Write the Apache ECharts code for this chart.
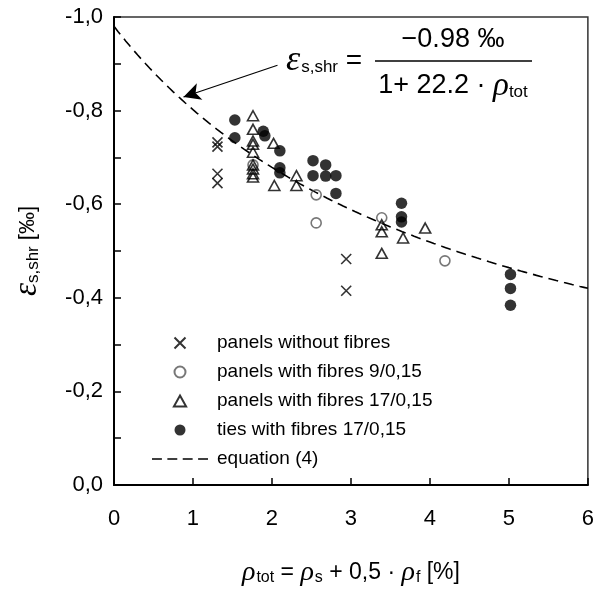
<!DOCTYPE html>
<html><head><meta charset="utf-8">
<script src="https://cdn.jsdelivr.net/npm/echarts@6/dist/echarts.min.js"></script>
<style>html,body{margin:0;padding:0;background:#fff}#c{width:597px;height:592px}</style>
</head><body><div id="c"></div>
<script>
// data: [rho_tot in %, shrinkage strain in permille]
const panelsNoFibres = [[1.31,-0.732],[1.31,-0.723],[1.31,-0.665],[1.31,-0.645],[2.94,-0.483],[2.94,-0.415]];
const panelsFibres9 = [[1.76,-0.684],[2.56,-0.620],[2.56,-0.560],[3.39,-0.571],[4.19,-0.479]];
const panelsFibres17 = [[1.76,-0.789],[1.76,-0.760],[1.76,-0.735],[1.76,-0.728],[1.76,-0.711],[1.76,-0.684],[1.76,-0.675],[1.76,-0.665],[1.76,-0.658],
  [2.02,-0.730],[2.03,-0.640],[2.31,-0.661],[2.31,-0.640],[3.39,-0.556],[3.39,-0.541],[3.39,-0.495],[3.66,-0.528],[3.94,-0.549]];
const tiesFibres17 = [[1.53,-0.780],[1.53,-0.742],[1.89,-0.756],[1.91,-0.746],[2.10,-0.714],[2.10,-0.678],[2.10,-0.667],
  [2.52,-0.693],[2.52,-0.661],[2.68,-0.684],[2.68,-0.660],[2.81,-0.661],[2.81,-0.623],
  [3.64,-0.602],[3.64,-0.573],[3.64,-0.562],[5.02,-0.450],[5.02,-0.420],[5.02,-0.384]];
const seriesNames = ['panels without fibres','panels with fibres 9/0,15','panels with fibres 17/0,15','ties with fibres 17/0,15','equation (4)'];
const eqA = -0.98, eqB = 22.2;   // equation (4): eps = eqA / (1 + eqB * rho_tot/100)
const eqX = []; for (let i = 0; i <= 120; i++) eqX.push(i * 0.05);
const eqLine = eqX.map(x => [x, eqA / (1 + eqB * x / 100)]);
const arrowFrom = [2.07, -0.897], arrowTo = [0.88, -0.829];

const sans = 'Liberation Sans, Arial, sans-serif';
const serif = 'Liberation Serif, Times New Roman, serif';
const crossPath = 'path://M0,0L10,10M10,0L0,10';
const triPath = 'path://M5,0L10,9L0,9Z';
const dashPath = 'path://M0,0h10v1.7h-10zM15.5,0h10v1.7h-10zM31,0h10v1.7h-10zM46.5,0h10v1.7h-10z';
const chart = echarts.init(document.getElementById('c'), null, {renderer:'canvas'});
const nameRichX = {
  g:{fontFamily:serif,fontStyle:'italic',fontSize:28,color:'#000'},
  s:{fontFamily:sans,fontSize:16,color:'#000',padding:[10,0,0,1]},
  t:{fontFamily:sans,fontSize:23,color:'#000'}
};
const nameRichY = {
  g:{fontFamily:serif,fontStyle:'italic',fontSize:33,color:'#000'},
  s:{fontFamily:sans,fontSize:17,color:'#000',padding:[11,0,0,0]},
  t:{fontFamily:sans,fontSize:22,color:'#000'}
};
chart.setOption({
  animation:false,
  backgroundColor:'#fff',
  grid:{left:114,right:8,top:17,bottom:104,show:true,borderColor:'#333',borderWidth:1.5,backgroundColor:'transparent'},
  xAxis:{type:'value',min:0,max:6,interval:1,
    axisLine:{show:true,onZero:false,lineStyle:{color:'#000',width:2}},
    axisTick:{show:true,inside:true,length:7,lineStyle:{color:'#000',width:1.5}},
    axisLabel:{fontFamily:sans,fontSize:22,color:'#000',margin:23},
    splitLine:{show:false},
    name:'{g|ρ}{s|tot}{t| = }{g|ρ}{s|s}{t| + 0,5 · }{g|ρ}{s|f}{t| [%]}',
    nameLocation:'middle',nameGap:74,nameTextStyle:{rich:nameRichX}
  },
  yAxis:{type:'value',min:-1,max:0,interval:0.2,inverse:true,
    axisLine:{show:true,onZero:false,lineStyle:{color:'#000',width:2}},
    axisTick:{show:true,inside:true,length:7,lineStyle:{color:'#000',width:1.5}},
    minorTick:{show:true,splitNumber:2,length:7,lineStyle:{color:'#000',width:1.5}},
    axisLabel:{fontFamily:sans,fontSize:22,color:'#000',margin:11,
      formatter:v=>v.toFixed(1).replace('.',',')},
    splitLine:{show:false},
    name:'{g|ε}{s|s,shr}{t| [‰]}',
    nameLocation:'middle',nameGap:70,nameRotate:90,nameTextStyle:{rich:nameRichY}
  },
  legend:{orient:'vertical',left:147,top:328,itemWidth:56,itemHeight:11,itemGap:9,
    data:[
      {name:seriesNames[0],icon:crossPath},
      {name:seriesNames[1],icon:'circle'},
      {name:seriesNames[2],icon:triPath},
      {name:seriesNames[3],icon:'circle'},
      {name:seriesNames[4],icon:dashPath,itemStyle:{color:'#000',borderWidth:0}}
    ],
    textStyle:{fontFamily:sans,fontSize:19,color:'#000',lineHeight:20,padding:[0,0,0,4]}},
  series:[
    {name:seriesNames[0],type:'scatter',data:panelsNoFibres,symbol:crossPath,symbolSize:10,
      itemStyle:{color:'transparent',borderColor:'#000',borderWidth:1.6}},
    {name:seriesNames[1],type:'scatter',data:panelsFibres9,symbol:'circle',symbolSize:10,
      itemStyle:{color:'transparent',borderColor:'#555',borderWidth:1.6}},
    {name:seriesNames[2],type:'scatter',data:panelsFibres17,symbol:triPath,symbolSize:[11,10],
      itemStyle:{color:'transparent',borderColor:'#000',borderWidth:1.6}},
    {name:seriesNames[3],type:'scatter',data:tiesFibres17,symbol:'circle',symbolSize:11.5,
      itemStyle:{color:'#000',borderColor:'#000',borderWidth:0}},
    {name:seriesNames[4],type:'line',data:eqLine,showSymbol:false,symbol:'none',smooth:false,
      lineStyle:{color:'#000',width:1.6,type:[10,6]},itemStyle:{color:'#000'},z:1,
      markLine:{silent:true,symbol:['none','arrow'],symbolSize:[13,17],
        lineStyle:{color:'#000',width:1.2,type:'solid'},label:{show:false},
        data:[[{coord:arrowFrom},{coord:arrowTo}]]}}
  ],
  graphic:[
    {type:'text',left:286,top:43,style:{rich:{g:{fontFamily:serif,fontStyle:'italic',fontSize:36,color:'#000'},
      s:{fontFamily:sans,fontSize:17,color:'#000',padding:[12,0,0,1]},t:{fontFamily:sans,fontSize:28,color:'#000'}},
      text:'{g|ε}{s|s,shr}{t| =}'}},
    {type:'text',x:453,y:40,style:{text:'−0.98 ‰',fontFamily:sans,fontSize:27,fill:'#000',align:'center',verticalAlign:'middle'}},
    {type:'line',shape:{x1:375,y1:61,x2:532,y2:61},style:{stroke:'#000',lineWidth:1.5}},
    {type:'text',x:453,y:86,style:{align:'center',verticalAlign:'middle',
      rich:{t:{fontFamily:sans,fontSize:27,color:'#000'},g:{fontFamily:serif,fontStyle:'italic',fontSize:33,color:'#000'},
        s:{fontFamily:sans,fontSize:17,color:'#000',padding:[12,0,0,0]}},
      text:'{t|1+ 22.2 · }{g|ρ}{s|tot}'}}
  ]
});
</script></body></html>
